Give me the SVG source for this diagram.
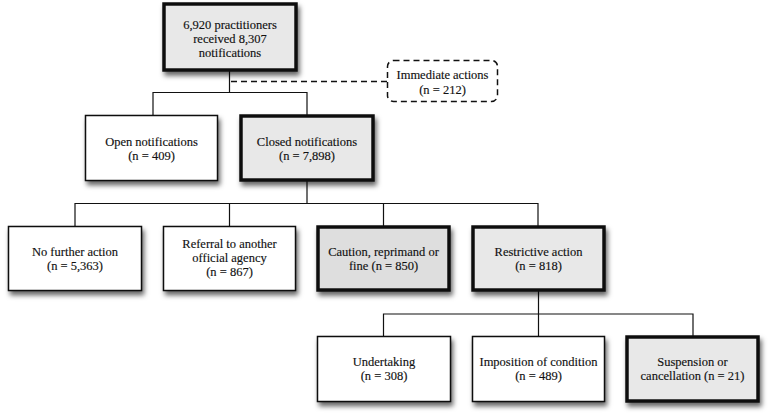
<svg xmlns="http://www.w3.org/2000/svg" width="769" height="417" viewBox="0 0 769 417">
<defs>
<filter id="sh" x="-20%" y="-20%" width="150%" height="160%">
<feDropShadow dx="2" dy="4" stdDeviation="2.5" flood-color="#000" flood-opacity="0.6"/>
</filter>
<style>
.box{fill:#fff;stroke:#111;stroke-width:1.5;filter:url(#sh)}
.hl{fill:#e8e8e8;stroke:#111;stroke-width:3.5;filter:url(#sh)}
.dk{fill:#dedede}
.dash{fill:#fff;stroke:#111;stroke-width:1.5;stroke-dasharray:6 4}
.ln{fill:none;stroke:#111;stroke-width:1.2}
.dl{fill:none;stroke:#111;stroke-width:1.5;stroke-dasharray:6 4}
text{font-family:'Liberation Serif','DejaVu Serif','Times New Roman',serif;font-size:12.5px;fill:#111;stroke:#111;stroke-width:0.15;text-anchor:middle}
</style>
</defs>
<rect width="769" height="417" fill="#fff"/>
<g id="connectors">
<path class="ln" d="M229.5 71V92.5M153 115V92.5H307V115"/>
<path class="dl" d="M231 81.5H387"/>
<path class="ln" d="M307 181V203.5M75 226V203.5H538V226M229.5 203.5V226M383.5 203.5V226"/>
<path class="ln" d="M538.5 291V314M383.5 336V314H693V336M538.5 314V336"/>
</g>
<g id="n-top">
<rect class="hl" x="164" y="4" width="132" height="66"/>
<text x="230" y="29">6,920 practitioners</text>
<text x="230" y="43">received 8,307</text>
<text x="230" y="57">notifications</text>
</g>
<g id="n-immediate">
<rect class="dash" x="387.5" y="60.5" width="110" height="41" rx="6"/>
<text x="442.5" y="79">Immediate actions</text>
<text x="442.5" y="94">(n = 212)</text>
</g>
<g id="n-open">
<rect class="box" x="85.5" y="115.5" width="132" height="65"/>
<text x="151.5" y="146">Open notifications</text>
<text x="151.5" y="160">(n = 409)</text>
</g>
<g id="n-closed">
<rect class="hl" x="241" y="116" width="132" height="64"/>
<text x="307" y="146">Closed notifications</text>
<text x="307" y="160">(n = 7,898)</text>
</g>
<g id="n-nfa">
<rect class="box" x="8.5" y="226.5" width="133" height="64"/>
<text x="75" y="256">No further action</text>
<text x="75" y="270">(n = 5,363)</text>
</g>
<g id="n-referral">
<rect class="box" x="163.5" y="226.5" width="132" height="64"/>
<text x="229.5" y="248">Referral to another</text>
<text x="229.5" y="262">official agency</text>
<text x="229.5" y="276">(n = 867)</text>
</g>
<g id="n-caution">
<rect class="hl dk" x="318" y="227" width="131" height="63"/>
<text x="383.5" y="256">Caution, reprimand or</text>
<text x="383.5" y="270">fine (n = 850)</text>
</g>
<g id="n-restrictive">
<rect class="hl" x="473" y="227" width="131" height="63"/>
<text x="538.5" y="256">Restrictive action</text>
<text x="538.5" y="270">(n = 818)</text>
</g>
<g id="n-undertaking">
<rect class="box" x="317.5" y="336.5" width="133" height="65"/>
<text x="384" y="366">Undertaking</text>
<text x="384" y="380">(n = 308)</text>
</g>
<g id="n-imposition">
<rect class="box" x="472.5" y="336.5" width="132" height="65"/>
<text x="538.5" y="366">Imposition of condition</text>
<text x="538.5" y="380">(n = 489)</text>
</g>
<g id="n-suspension">
<rect class="hl" x="627" y="337" width="131" height="64"/>
<text x="692.5" y="366">Suspension or</text>
<text x="692.5" y="380">cancellation (n = 21)</text>
</g>
</svg>
